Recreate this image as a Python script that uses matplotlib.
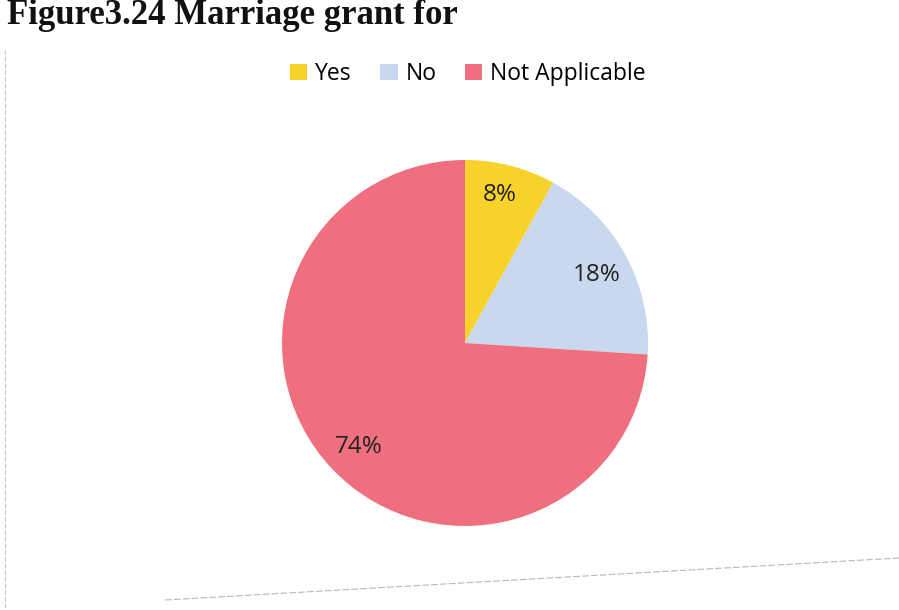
import matplotlib
matplotlib.use("Agg")
import matplotlib.pyplot as plt
from matplotlib.lines import Line2D

categories = ["Yes", "No", "Not Applicable"]
shares = [8, 18, 74]
colors = ["#F8D22C", "#C9D8EE", "#EF6F7E"]
title_text = "Figure3.24 Marriage grant for"

W, H = 899, 610
fig = plt.figure(figsize=(W / 100, H / 100), dpi=100)
fig.patch.set_facecolor("white")

# pie area: centre (465, 343) px, radius 183 px
cx, cy, r = 465, 343, 183
ax = fig.add_axes([(cx - r) / W, (H - cy - r) / H, 2 * r / W, 2 * r / H])
wedges, texts, autotexts = ax.pie(
    shares, colors=colors, startangle=90, counterclock=False,
    autopct=lambda p: f"{p:.0f}%", pctdistance=0.6,
    wedgeprops=dict(linewidth=0),
    textprops=dict(fontsize=17.5, color="#222222", family="Open Sans"),
)
# label placement inside each wedge
pct_pos = [(0.19, 0.81), (0.72, 0.37), (-0.58, -0.57)]
for t, (x, y) in zip(autotexts, pct_pos):
    t.set_position((x, y))
    t.set_ha("center")
    t.set_va("center")
ax.set_xlim(-1, 1)
ax.set_ylim(-1, 1)
ax.set_aspect("equal")
ax.axis("off")

handles = [plt.Rectangle((0, 0), 1, 1, facecolor=c, edgecolor="none") for c in colors]
fig.legend(handles, categories, loc="center", bbox_to_anchor=(468 / W, 1 - 74 / H),
           ncol=3, frameon=False, handlelength=0.75, handleheight=0.75,
           handletextpad=0.35, columnspacing=1.25,
           prop=dict(family="Open Sans", size=16.5))

# heading at the top edge
fig.text(7 / W, 1 - 24 / H, title_text, fontsize=25, fontweight="bold",
         family="Liberation Serif", ha="left", va="baseline", color="#111111")

# faint border lines of the chart frame
fig.add_artist(Line2D([5 / W, 5 / W], [1 - 50 / H, 0], color="#c8c8cc",
                      lw=0.8, ls=(0, (4, 2))))
fig.add_artist(Line2D([165 / W, 1.0], [1 - 600 / H, 1 - 558 / H], color="#b8b8bc",
                      lw=0.8, ls=(0, (6, 2))))

fig.savefig("out.png", dpi=100, facecolor="white")
